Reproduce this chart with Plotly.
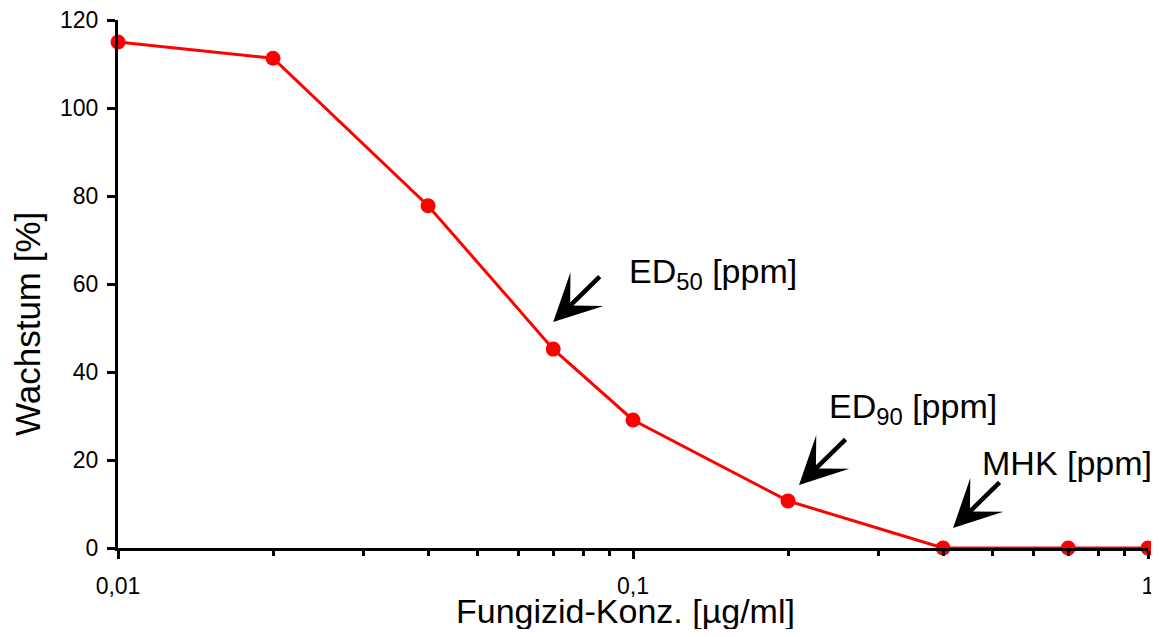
import math
import plotly.graph_objects as go

# Data
concentration = [0.01, 0.02, 0.04, 0.07, 0.1, 0.2, 0.4, 0.7, 1.0]
growth = [115, 111.3, 77.8, 45.2, 29.1, 10.7, 0, 0, 0]

x_tickvals = [0.01, 0.1, 1]
x_ticktext = ["0,01", "0,1", "1"]
y_tickvals = [0, 20, 40, 60, 80, 100, 120]

labels = ["ED<sub>50</sub> [ppm]", "ED<sub>90</sub> [ppm]", "MHK [ppm]"]
label_points = [3, 5, 6]          # index of the marked point

# Layout (page pixels; the page body has an 8px margin)
FONT = "Liberation Sans, Arial, Helvetica, sans-serif"
OFF = 8
PL, PT, PR, PB = 118, 20, 1148, 548   # plot area in page pixels
W, H = 1159 - OFF, 637 - 2 * OFF
L, T = PL - OFF, PT - OFF
R = W - (PR - OFF)
B = H - (PB - OFF)
pw, ph = PR - PL, PB - PT

label_shift = [(0, 27), (11, 16), (10, 20)]       # arrow tip offset from the point (px)
label_pos = [(627, 273), (827, 408), (980, 463)]  # text left / vertical centre (page px)
label_size = [34, 34, 34]


def px_to_paper(px, py):
    return (px - PL) / pw, (PB - py) / ph


fig = go.Figure()
fig.add_trace(go.Scatter(
    x=concentration, y=growth, mode="lines+markers",
    line=dict(color="#ff0000", width=3),
    marker=dict(color="#ff0000", size=15),
    cliponaxis=False, showlegend=False,
))

annotations = []
for lab, idx, (dx, dy), (tx, ty), fs in zip(labels, label_points, label_shift, label_pos, label_size):
    annotations.append(dict(
        x=math.log10(concentration[idx]), y=growth[idx], xref="x", yref="y",
        xshift=dx, yshift=dy, text="", showarrow=True,
        arrowhead=3, arrowsize=1.75, arrowwidth=4.5, arrowcolor="black",
        ax=48, ay=-47, standoff=0,
    ))
    px, py = px_to_paper(tx, ty)
    annotations.append(dict(
        x=px, y=py, xref="paper", yref="paper", xanchor="left", yanchor="middle",
        text=lab, showarrow=False, font=dict(family=FONT, size=fs, color="black"),
    ))

yx, yy = px_to_paper(28, 324)
annotations.append(dict(
    x=yx, y=yy, xref="paper", yref="paper", xanchor="center", yanchor="middle",
    text="Wachstum [%]", textangle=-90, showarrow=False,
    font=dict(family=FONT, size=35, color="black"),
))
xx, xy = px_to_paper(625, 611)
annotations.append(dict(
    x=xx, y=xy, xref="paper", yref="paper", xanchor="center", yanchor="middle",
    text="Fungizid-Konz. [µg/ml]", showarrow=False,
    font=dict(family=FONT, size=34, color="black"),
))

fig.update_layout(
    width=W, height=H,
    margin=dict(l=L, r=R, t=T, b=B, pad=0, autoexpand=False),
    paper_bgcolor="white", plot_bgcolor="white",
    font=dict(family=FONT, color="black"),
    annotations=annotations,
    xaxis=dict(
        type="log", range=[-2, 0], automargin=False,
        tickvals=x_tickvals, ticktext=x_ticktext,
        ticks="outside", ticklen=8, tickwidth=2.5, tickcolor="black",
        minor=dict(ticks="outside", ticklen=5, tickwidth=2.5, tickcolor="black",
                   dtick="D1", showgrid=False),
        showline=True, linecolor="black", linewidth=3,
        showgrid=False, zeroline=False,
        tickfont=dict(size=23, family=FONT),
        ticklabelstandoff=7, ticklabeloverflow="allow",
    ),
    yaxis=dict(
        range=[0, 120], tickvals=y_tickvals, automargin=False,
        ticks="outside", ticklen=8, tickwidth=2.5, tickcolor="black",
        showline=True, linecolor="black", linewidth=3,
        showgrid=False, zeroline=False,
        tickfont=dict(size=23, family=FONT),
        ticklabelstandoff=4, ticklabeloverflow="allow",
    ),
)

fig.write_html("out.html")
